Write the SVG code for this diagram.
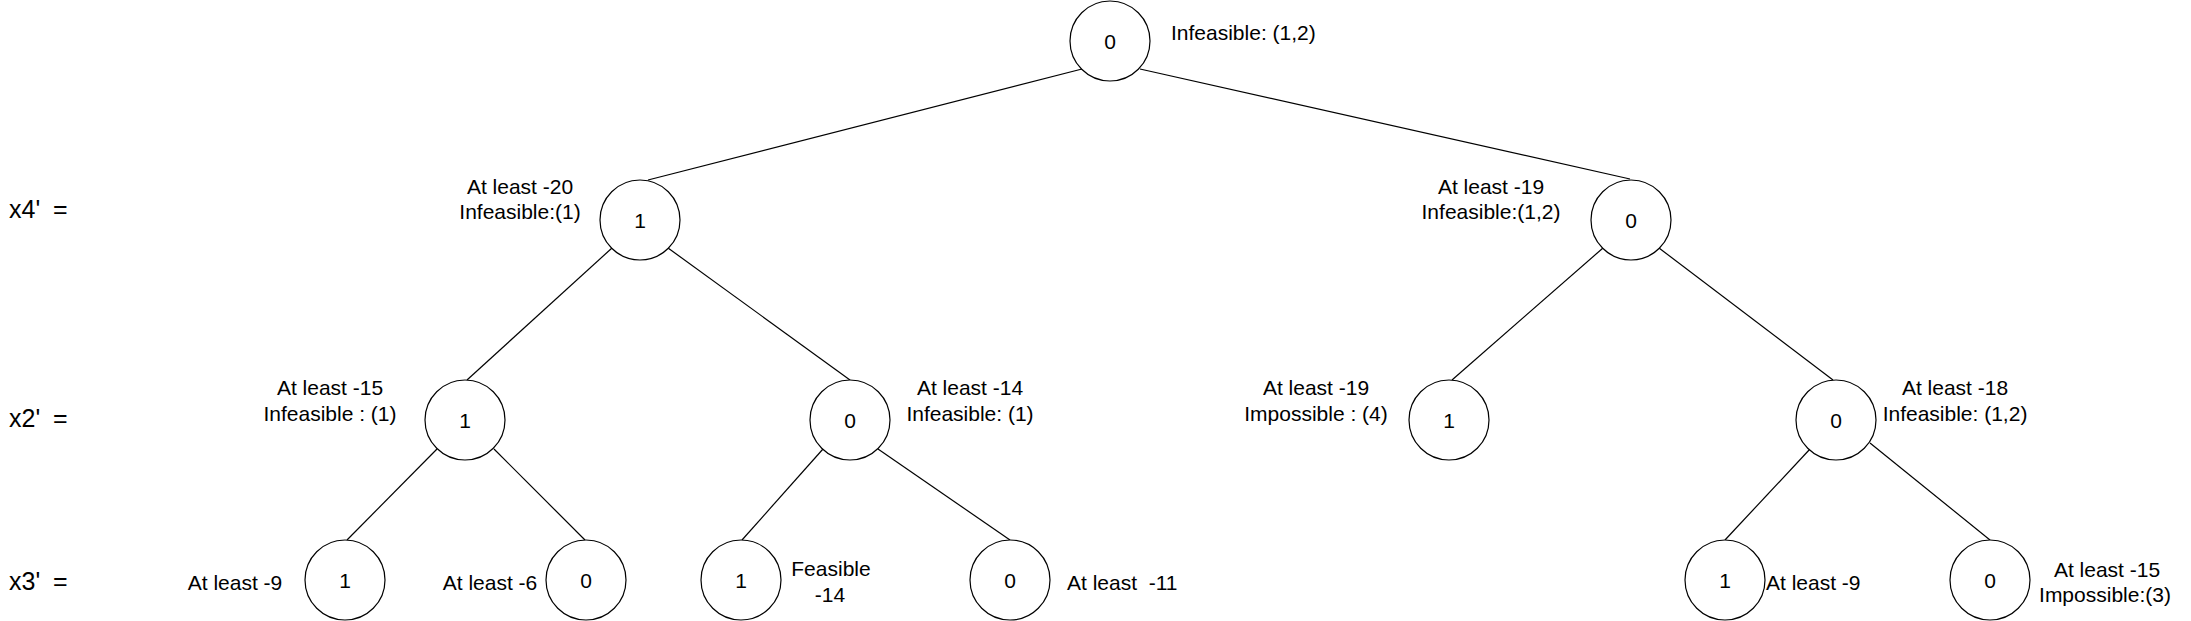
<svg xmlns="http://www.w3.org/2000/svg" width="2191" height="621" viewBox="0 0 2191 621">
<style>
.n{fill:#fff;stroke:#000;stroke-width:1.2}
.e{stroke:#000;stroke-width:1.2;fill:none}
text{font-family:"Liberation Sans",Arial,sans-serif;font-size:21px;fill:#000}
.c{text-anchor:middle}
.lv{font-size:25px;word-spacing:6px}
</style>
<rect width="2191" height="621" fill="#fff"/>
<g id="connectors">
<line class="e" x1="1082" y1="69" x2="648" y2="180"/>
<line class="e" x1="1140" y1="69" x2="1630" y2="179"/>
<line class="e" x1="612" y1="248" x2="467" y2="380"/>
<line class="e" x1="668" y1="248" x2="850" y2="380"/>
<line class="e" x1="1603" y1="248" x2="1452" y2="380"/>
<line class="e" x1="1659" y1="248" x2="1833" y2="380"/>
<line class="e" x1="437" y1="449" x2="347" y2="540"/>
<line class="e" x1="494" y1="449" x2="585" y2="540"/>
<line class="e" x1="823" y1="449" x2="742" y2="540"/>
<line class="e" x1="878" y1="449" x2="1010" y2="540"/>
<line class="e" x1="1810" y1="449" x2="1725" y2="540"/>
<line class="e" x1="1870" y1="443" x2="1990" y2="540"/>
</g>
<g id="levels">
<text class="lv" x="9" y="218">x4' =</text>
<text class="lv" x="9" y="427">x2' =</text>
<text class="lv" x="9" y="590">x3' =</text>
</g>
<g id="root"><circle class="n" cx="1110" cy="41" r="40"/><text class="c" x="1110" y="49">0</text><text x="1171" y="40">Infeasible: (1,2)</text></g>
<g id="n_l"><circle class="n" cx="640" cy="220" r="40"/><text class="c" x="640" y="228">1</text><text class="c" x="520" y="194">At least -20</text><text class="c" x="520" y="219">Infeasible:(1)</text></g>
<g id="n_r"><circle class="n" cx="1631" cy="220" r="40"/><text class="c" x="1631" y="228">0</text><text class="c" x="1491" y="194">At least -19</text><text class="c" x="1491" y="219">Infeasible:(1,2)</text></g>
<g id="n_ll"><circle class="n" cx="465" cy="420" r="40"/><text class="c" x="465" y="428">1</text><text class="c" x="330" y="395">At least -15</text><text class="c" x="330" y="421">Infeasible : (1)</text></g>
<g id="n_lr"><circle class="n" cx="850" cy="420" r="40"/><text class="c" x="850" y="428">0</text><text class="c" x="970" y="395">At least -14</text><text class="c" x="970" y="421">Infeasible: (1)</text></g>
<g id="n_rl"><circle class="n" cx="1449" cy="420" r="40"/><text class="c" x="1449" y="428">1</text><text class="c" x="1316" y="395">At least -19</text><text class="c" x="1316" y="421">Impossible : (4)</text></g>
<g id="n_rr"><circle class="n" cx="1836" cy="420" r="40"/><text class="c" x="1836" y="428">0</text><text class="c" x="1955" y="395">At least -18</text><text class="c" x="1955" y="421">Infeasible: (1,2)</text></g>
<g id="n_lll"><circle class="n" cx="345" cy="580" r="40"/><text class="c" x="345" y="588">1</text><text class="c" x="235" y="590">At least -9</text></g>
<g id="n_llr"><circle class="n" cx="586" cy="580" r="40"/><text class="c" x="586" y="588">0</text><text class="c" x="490" y="590">At least -6</text></g>
<g id="n_lrl"><circle class="n" cx="741" cy="580" r="40"/><text class="c" x="741" y="588">1</text><text class="c" x="831" y="576">Feasible</text><text class="c" x="830" y="602">-14</text></g>
<g id="n_lrr"><circle class="n" cx="1010" cy="580" r="40"/><text class="c" x="1010" y="588">0</text><text x="1067" y="590" xml:space="preserve">At least  -11</text></g>
<g id="n_rrl"><circle class="n" cx="1725" cy="580" r="40"/><text class="c" x="1725" y="588">1</text><text x="1766" y="590">At least -9</text></g>
<g id="n_rrr"><circle class="n" cx="1990" cy="580" r="40"/><text class="c" x="1990" y="588">0</text><text class="c" x="2107" y="577">At least -15</text><text class="c" x="2105" y="602">Impossible:(3)</text></g>
</svg>
